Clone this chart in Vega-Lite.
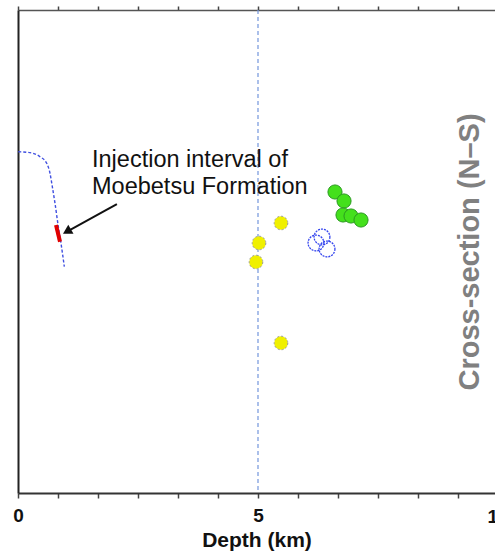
{
  "$schema": "https://vega.github.io/schema/vega-lite/v6.json",
  "width": 477,
  "height": 483,
  "autosize": {"type": "none"},
  "padding": {"left": 18, "top": 10, "right": 0, "bottom": 64},
  "config": {"view": {"stroke": null}, "font": "Liberation Sans", "axis": {"grid": false}},
  "datasets": {
    "events": [
      {"x": 6.604, "y": 3.768, "group": "green"},
      {"x": 6.792, "y": 3.954, "group": "green"},
      {"x": 6.771, "y": 4.244, "group": "green"},
      {"x": 6.938, "y": 4.265, "group": "green"},
      {"x": 7.146, "y": 4.348, "group": "green"},
      {"x": 5.479, "y": 4.41, "group": "yellow"},
      {"x": 5.021, "y": 4.824, "group": "yellow"},
      {"x": 4.958, "y": 5.217, "group": "yellow"},
      {"x": 5.479, "y": 6.894, "group": "yellow"},
      {"x": 6.333, "y": 4.7, "group": "blue"},
      {"x": 6.208, "y": 4.824, "group": "blue"},
      {"x": 6.438, "y": 4.948, "group": "blue"}
    ],
    "well": [
      {"o": 1, "x": 0.006, "y": 2.934},
      {"o": 2, "x": 0.25, "y": 2.954},
      {"o": 3, "x": 0.458, "y": 3.037},
      {"o": 4, "x": 0.598, "y": 3.174},
      {"o": 5, "x": 0.667, "y": 3.381},
      {"o": 6, "x": 0.715, "y": 3.658},
      {"o": 7, "x": 0.771, "y": 4.002},
      {"o": 8, "x": 0.84, "y": 4.487},
      {"o": 9, "x": 0.896, "y": 4.83},
      {"o": 10, "x": 0.965, "y": 5.315}
    ],
    "inj": [
      {"o": 1, "x": 0.792, "y": 4.451},
      {"o": 2, "x": 0.875, "y": 4.797}
    ],
    "arrow": [{"x": 2.06, "y": 4.02, "x2": 1.02, "y2": 4.586}],
    "note": [
      {"x": 1.542, "y": 3.25, "text": "Injection interval of"},
      {"x": 1.542, "y": 3.81, "text": "Moebetsu Formation"}
    ],
    "sect": [{"x": 9.417, "y": 5.01, "text": "Cross-section (N–S)"}],
    "ticklab": [{"x": 10, "y": 10.5, "text": "10"}],
    "ref": [{"x": 5}]
  },
  "resolve": {"axis": {"x": "independent"}},
  "layer": [
    {
      "data": {"name": "ref"},
      "mark": {"type": "rule", "color": "#7396dc", "strokeWidth": 1.2, "strokeDash": [4, 3]},
      "encoding": {
        "x": {
          "field": "x", "type": "quantitative",
          "scale": {"domain": [0, 9.9375], "nice": false, "zero": false},
          "axis": {
            "orient": "top", "values": [0, 0.8333, 1.6667, 2.5, 3.3333, 4.1667, 5, 5.8333, 6.6667, 7.5, 8.3333, 9.1667],
            "labels": false, "title": null, "tickSize": 4, "tickWidth": 1.5, "tickColor": "#444",
            "domainColor": "#555", "domainWidth": 1.5
          }
        }
      }
    },
    {
      "data": {"name": "well"},
      "mark": {"type": "line", "color": "#3f4fe0", "strokeWidth": 1.4, "strokeDash": [3, 2], "interpolate": "monotone"},
      "encoding": {
        "x": {
          "field": "x", "type": "quantitative",
          "axis": {
            "orient": "bottom", "values": [0, 0.8333, 1.6667, 2.5, 3.3333, 4.1667, 5, 5.8333, 6.6667, 7.5, 8.3333, 9.1667],
            "labelExpr": "datum.value == 0 || datum.value == 5 ? datum.value : ''",
            "labelFlush": false,
            "labelFontSize": 19, "labelFontWeight": "bold", "labelColor": "#111", "labelPadding": 8,
            "tickSize": 5, "tickWidth": 1.5, "tickColor": "#444", "domainColor": "#333", "domainWidth": 2,
            "title": "Depth (km)", "titleFontSize": 21, "titleFontWeight": "bold", "titleColor": "#111", "titlePadding": 4
          }
        },
        "y": {
          "field": "y", "type": "quantitative",
          "scale": {"domain": [0, 10], "reverse": true, "nice": false, "zero": false},
          "axis": {"ticks": false, "labels": false, "title": null, "domainColor": "#222", "domainWidth": 2}
        },
        "order": {"field": "o"}
      }
    },
    {
      "data": {"name": "inj"},
      "mark": {"type": "line", "color": "#e00000", "strokeWidth": 4},
      "encoding": {
        "x": {"field": "x", "type": "quantitative", "axis": null},
        "y": {"field": "y", "type": "quantitative"},
        "order": {"field": "o"}
      }
    },
    {
      "data": {"name": "events"},
      "transform": [{"filter": "datum.group == 'green'"}],
      "mark": {"type": "point", "shape": "circle", "filled": true, "size": 200, "fill": "#44e01c", "stroke": "#2a9a20", "strokeWidth": 1, "fillOpacity": 1, "opacity": 1},
      "encoding": {
        "x": {"field": "x", "type": "quantitative", "axis": null},
        "y": {"field": "y", "type": "quantitative"}
      }
    },
    {
      "data": {"name": "events"},
      "transform": [{"filter": "datum.group == 'yellow'"}],
      "mark": {"type": "point", "shape": "circle", "filled": true, "size": 185, "fill": "#f0f000", "stroke": "#999999", "strokeWidth": 1, "strokeDash": [2, 2], "fillOpacity": 1, "opacity": 1},
      "encoding": {
        "x": {"field": "x", "type": "quantitative", "axis": null},
        "y": {"field": "y", "type": "quantitative"}
      }
    },
    {
      "data": {"name": "events"},
      "transform": [{"filter": "datum.group == 'blue'"}],
      "mark": {"type": "point", "shape": "circle", "filled": false, "size": 250, "stroke": "#3344ee", "strokeWidth": 1.3, "strokeDash": [2, 1], "opacity": 1},
      "encoding": {
        "x": {"field": "x", "type": "quantitative", "axis": null},
        "y": {"field": "y", "type": "quantitative"}
      }
    },
    {
      "data": {"name": "arrow"},
      "mark": {"type": "rule", "color": "#111", "strokeWidth": 2},
      "encoding": {
        "x": {"field": "x", "type": "quantitative", "axis": null},
        "y": {"field": "y", "type": "quantitative"},
        "x2": {"field": "x2"},
        "y2": {"field": "y2"}
      }
    },
    {
      "data": {"name": "arrow"},
      "mark": {"type": "point", "shape": "triangle-up", "filled": true, "size": 110, "color": "#111", "angle": 240, "opacity": 1},
      "encoding": {
        "x": {"field": "x2", "type": "quantitative", "axis": null},
        "y": {"field": "y2", "type": "quantitative"}
      }
    },
    {
      "data": {"name": "note"},
      "mark": {"type": "text", "align": "left", "baseline": "alphabetic", "fontSize": 23.5, "color": "#111"},
      "encoding": {
        "x": {"field": "x", "type": "quantitative", "axis": null},
        "y": {"field": "y", "type": "quantitative"},
        "text": {"field": "text"}
      }
    },
    {
      "data": {"name": "sect"},
      "mark": {"type": "text", "align": "center", "baseline": "middle", "angle": 270, "fontSize": 29, "fontWeight": "bold", "color": "#808080"},
      "encoding": {
        "x": {"field": "x", "type": "quantitative", "axis": null},
        "y": {"field": "y", "type": "quantitative"},
        "text": {"field": "text"}
      }
    },
    {
      "data": {"name": "ticklab"},
      "mark": {"type": "text", "align": "center", "baseline": "middle", "fontSize": 19, "fontWeight": "bold", "color": "#111"},
      "encoding": {
        "x": {"field": "x", "type": "quantitative", "axis": null},
        "y": {"field": "y", "type": "quantitative"},
        "text": {"field": "text"}
      }
    }
  ]
}
